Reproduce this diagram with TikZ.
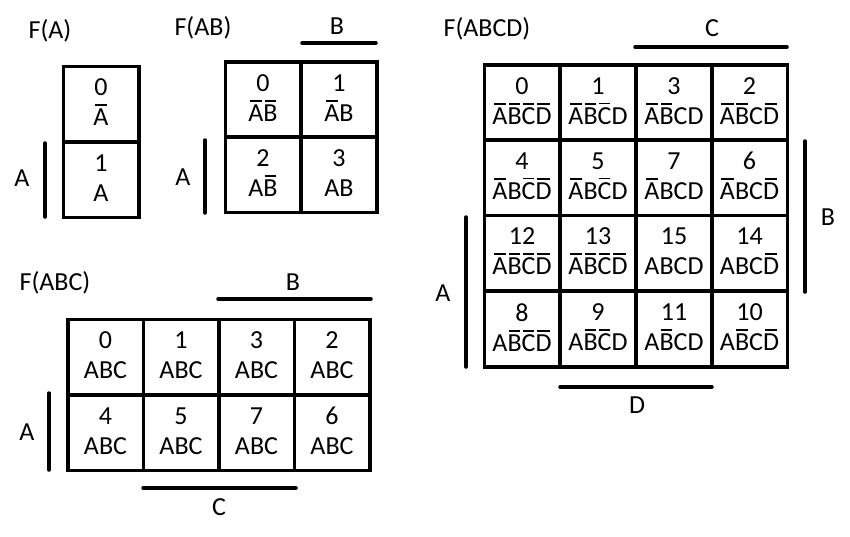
\documentclass[tikz,border=0pt]{standalone}
\usepackage{fontspec}
\setmainfont{Carlito}
\usetikzlibrary{positioning}
\newcommand{\ol}[1]{{\setbox0\hbox{#1}\rlap{\hspace{0.1\wd0}\rule[\dimexpr\ht0+3pt\relax]{0.8\wd0}{1.8pt}}\box0}}
\tikzset{
  cell/.style={draw, line width=3.5pt, minimum width=75.5pt, minimum height=75.5pt,
    inner sep=0pt, align=center, execute at begin node={\rule{0pt}{21pt}},
    execute at end node={\rule[-3pt]{0pt}{3pt}},
    font=\fontsize{26}{30}\selectfont},
  lbl/.style={inner sep=0pt, font=\fontsize{26}{30}\selectfont},
  bar/.style={line width=3.5pt, line cap=round}
}

\begin{document}
\begin{tikzpicture}[x=1pt,y=-1pt]
    \useasboundingbox (0,0) rectangle (850,536);
    % F(A)
    \node[lbl] (tA) at (50,31) {F(A)};
    \node[cell] (a0) at (101,104) {0\\\ol{A}};
    \node[cell] (a1) at (101,179.5) {1\\A};
    \draw[bar] (45,143) -- (45,217);
    \node[lbl] (aA) at (22,178) {A};
    % F(AB)
    \node[lbl] (tAB) at (203,28) {F(AB)};
    \node[cell] (ab0) at (263,99.5) {0\\\ol{A}\ol{B}};
    \node[cell] (ab1) at (339,99.5) {1\\\ol{A}B};
    \node[cell] (ab2) at (263,174.5) {2\\A\ol{B}};
    \node[cell] (ab3) at (339,174.5) {3\\AB};
    \draw[bar] (302,43) -- (376,43)
        (205,140) -- (205,213);
    \node[lbl] (abB) at (337,26) {B};
    \node[lbl] (abA) at (183,177) {A};
    % F(ABC)
    \node[lbl] (tABC) at (55,283) {F(ABC)};
    \node[cell] (abc0) at (105.5,357) {0\\ABC};
    \node[cell] (abc1) at (181,357) {1\\ABC};
    \node[cell] (abc3) at (256.5,357) {3\\ABC};
    \node[cell] (abc2) at (332,357) {2\\ABC};
    \node[cell] (abc4) at (105.5,432.5) {4\\ABC};
    \node[cell] (abc5) at (181,432.5) {5\\ABC};
    \node[cell] (abc7) at (256.5,432.5) {7\\ABC};
    \node[cell] (abc6) at (332,432.5) {6\\ABC};
    \draw[bar] (218,299) -- (371,299)
        (49,393) -- (49,470)
        (143,488) -- (296,488);
    \node[lbl] (abcB) at (293,282) {B};
    \node[lbl] (abcA) at (27,432) {A};
    \node[lbl] (abcC) at (219,507) {C};
    % F(ABCD)
    \node[lbl] (tABCD) at (487,29) {F(ABCD)};
    \node[cell] (m0) at (522,102.5) {0\\\ol{A}\ol{B}\ol{C}\ol{D}};
    \node[cell] (m1) at (598,102.5) {1\\\ol{A}\ol{B}\ol{C}D};
    \node[cell] (m3) at (674,102.5) {3\\\ol{A}\ol{B}CD};
    \node[cell] (m2) at (749.5,102.5) {2\\\ol{A}\ol{B}C\ol{D}};
    \node[cell] (m4) at (522,177.5) {4\\\ol{A}B\ol{C}\ol{D}};
    \node[cell] (m5) at (598,177.5) {5\\\ol{A}B\ol{C}D};
    \node[cell] (m7) at (674,177.5) {7\\\ol{A}BCD};
    \node[cell] (m6) at (749.5,177.5) {6\\\ol{A}BC\ol{D}};
    \node[cell] (m12) at (522,253) {12\\\ol{A}\ol{B}\ol{C}\ol{D}};
    \node[cell] (m13) at (598,253) {13\\\ol{A}\ol{B}\ol{C}\ol{D}};
    \node[cell] (m15) at (674,253) {15\\ABCD};
    \node[cell] (m14) at (749.5,253) {14\\ABC\ol{D}};
    \node[cell] (m8) at (522,329) {8\\A\ol{B}\ol{C}\ol{D}};
    \node[cell] (m9) at (598,329) {9\\A\ol{B}\ol{C}D};
    \node[cell] (m11) at (674,329) {11\\A\ol{B}CD};
    \node[cell] (m10) at (749.5,329) {10\\A\ol{B}C\ol{D}};
    \draw[bar] (635,47) -- (787,47)
        (466,217) -- (466,367)
        (805,141) -- (805,292)
        (560,387) -- (712,387);
    \node[lbl] (mC) at (712,28) {C};
    \node[lbl] (mA) at (443,293) {A};
    \node[lbl] (mB) at (828,217) {B};
    \node[lbl] (mD) at (637,405) {D};
\end{tikzpicture}
\end{document}
